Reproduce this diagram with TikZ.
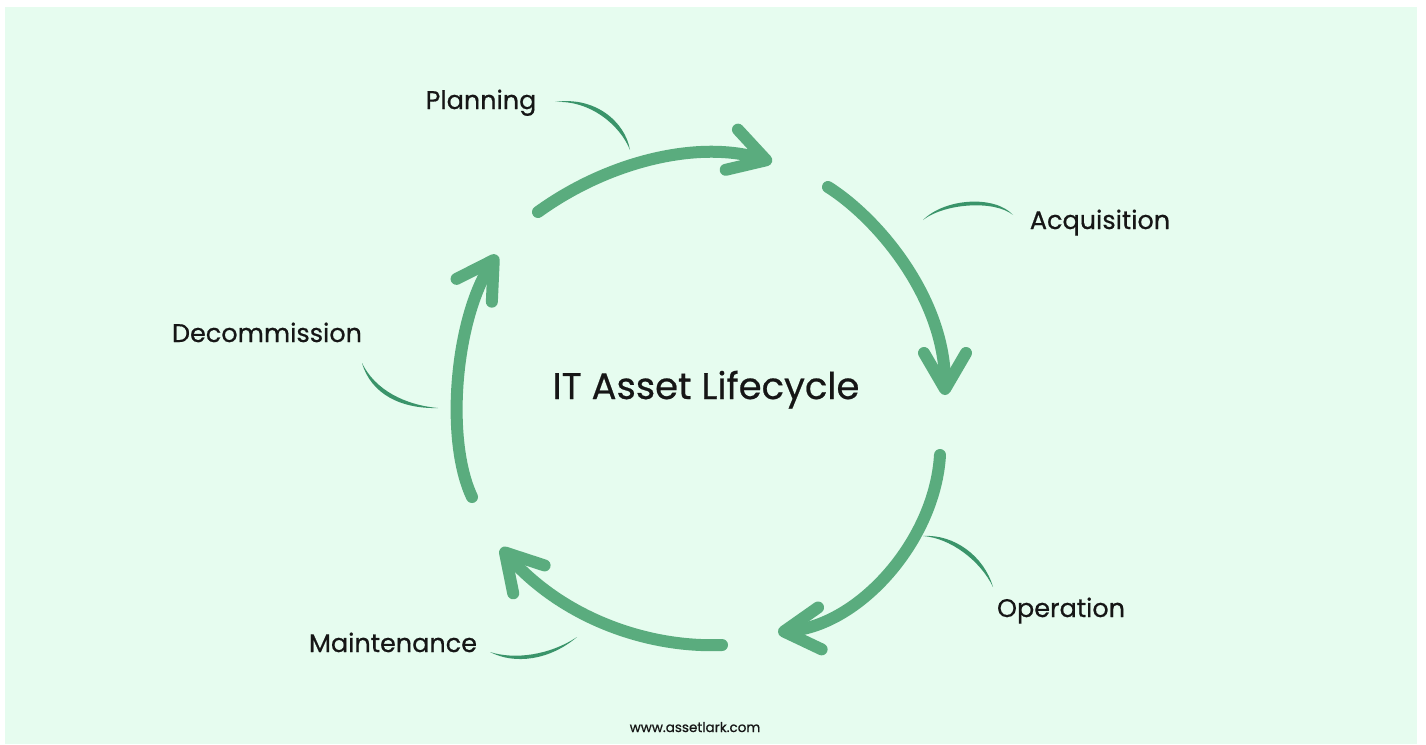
\documentclass[tikz,border=0pt]{standalone}
\usepackage{fontspec}
\setmainfont{Poppins}
\newfontfamily\heavyfont[FakeBold=0.6]{Poppins}
\usetikzlibrary{arrows.meta}
\definecolor{MintBg}{RGB}{230,252,239}
\definecolor{LeafGreen}{RGB}{90,172,126}
\definecolor{PineGreen}{RGB}{58,148,106}
\definecolor{InkBlack}{RGB}{22,22,22}

\begin{document}
\begin{tikzpicture}[x=1pt,y=-1pt,
  stage/.style={font=\heavyfont\fontsize{25.5}{30}\selectfont,text=InkBlack,anchor=base,inner sep=0pt},
  cyclearrow/.style={draw=LeafGreen,line width=12pt,line cap=round,
                     -{Straight Barb[length=36pt,width=42pt,round]}},
  leader/.style={fill=PineGreen,draw=none},
]
\useasboundingbox (0,0) rectangle (1426,744);
\fill[white] (0,0) rectangle (1426,744);
\fill[MintBg] (5,7) rectangle (1417,744);

\node[font=\heavyfont\fontsize{37}{44}\selectfont,text=InkBlack,anchor=base,inner sep=0pt]
  (title) at (706,399) {IT Asset Lifecycle};
\node[font=\heavyfont\fontsize{13.5}{16}\selectfont,text=InkBlack,anchor=base,inner sep=0pt]
  (site) at (695,732) {www.assetlark.com};

\node[stage] (planning) at (481,109) {Planning};
\node[stage] (acquisition) at (1100,229) {Acquisition};
\node[stage] (operation) at (1061,617) {Operation};
\node[stage] (maintenance) at (393,652) {Maintenance};
\node[stage] (decommission) at (267,342) {Decommission};

\coordinate (plan-s) at (538,212);  \coordinate (plan-e) at (772,162);
\coordinate (acq-s) at (828,187);   \coordinate (acq-e) at (945,395);
\coordinate (op-s) at (940,455);    \coordinate (op-e) at (778,632);
\coordinate (main-s) at (722,645);  \coordinate (main-e) at (501,548);
\coordinate (dec-s) at (472,497);   \coordinate (dec-e) at (497,255);

\draw[cyclearrow] (plan-s) .. controls (610,160) and (700,140) .. (plan-e);
\draw[cyclearrow] (acq-s) .. controls (880,220) and (945,300) .. (acq-e);
\draw[cyclearrow] (op-s) .. controls (935,540) and (860,625) .. (op-e);
\draw[cyclearrow] (main-s) .. controls (650,648) and (565,620) .. (main-e);
\draw[cyclearrow] (dec-s) .. controls (445,440) and (455,320) .. (dec-e);

\coordinate (plan-a) at (555,102);  \coordinate (plan-b) at (630,150);
\coordinate (acq-a) at (923,220);   \coordinate (acq-b) at (1013,215);
\coordinate (op-a) at (923,536);    \coordinate (op-b) at (993,587);
\coordinate (main-a) at (490,652);  \coordinate (main-b) at (577,637);
\coordinate (dec-a) at (362,363);   \coordinate (dec-b) at (438,408);

\fill[leader] (plan-a) .. controls (590,100) and (620,125) .. (plan-b)
  .. controls (625,121) and (594,96) .. cycle;
\fill[leader] (acq-a) .. controls (945,203) and (995,200) .. (acq-b)
  .. controls (995,195) and (945,198) .. cycle;
\fill[leader] (op-a) .. controls (950,538) and (980,560) .. (op-b)
  .. controls (984,556) and (954,534) .. cycle;
\fill[leader] (main-a) .. controls (515,660) and (550,655) .. (main-b)
  .. controls (550,660) and (515,665) .. cycle;
\fill[leader] (dec-a) .. controls (375,390) and (405,405) .. (dec-b)
  .. controls (401,409) and (371,394) .. cycle;
\end{tikzpicture}
\end{document}
